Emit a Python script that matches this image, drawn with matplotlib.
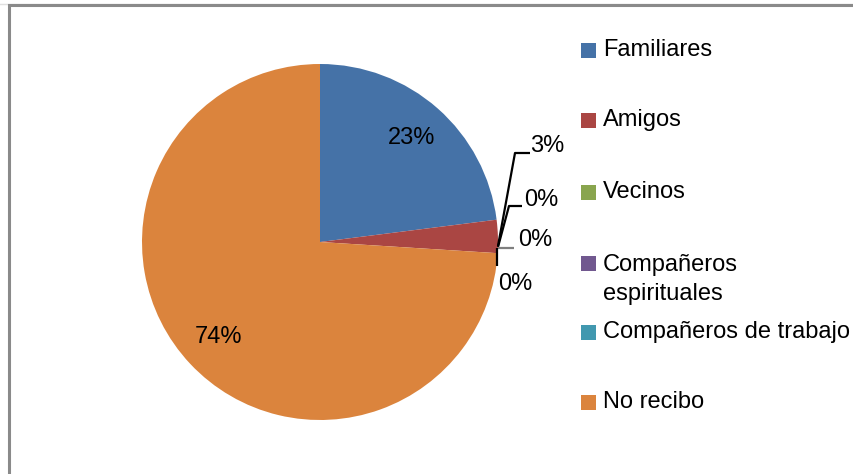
import matplotlib
matplotlib.use("Agg")
import matplotlib.pyplot as plt
from matplotlib.patches import Rectangle

plt.rcParams['font.family'] = ['Liberation Sans', 'DejaVu Sans']

categories = ["Familiares", "Amigos", "Vecinos", "Compañeros\nespirituales",
              "Compañeros de trabajo", "No recibo"]
values = [23, 3, 0, 0, 0, 74]
colors = ["#4572A7", "#AA4643", "#89A54E", "#71588F", "#4198AF", "#DB843D"]

W, H = 854, 474
fig = plt.figure(figsize=(W / 100, H / 100), dpi=100)
ax = fig.add_axes([0, 0, 1, 1])


def px(x, y):
    """Pixel position (from top-left) to data coordinates."""
    return x, H - y


cx, cy = px(320, 242)
R = 178
FS = 17

wedges, texts, autotexts = ax.pie(
    values, colors=colors, startangle=90, counterclock=False,
    center=(cx, cy), radius=R, autopct=lambda p: f"{p:.0f}%",
    pctdistance=0.78, textprops=dict(fontsize=FS, color="black"),
    wedgeprops=dict(linewidth=0), normalize=True)

# Small slices: labels moved outside with leader lines
outside = {
    1: dict(text=(547, 146), line=[(498, 246), (515, 153), (530, 153)], col="black"),
    2: dict(text=(541, 200), line=[(498, 247), (509, 206), (522, 206)], col="black"),
    3: dict(text=(535, 240), line=[(498, 248), (514, 248)], col="#7f7f7f"),
    4: dict(text=(515, 284), line=[(497, 248), (497, 266)], col="black"),
}
for i, spec in outside.items():
    autotexts[i].set_position(px(*spec["text"]))
    autotexts[i].set_ha("center")
    autotexts[i].set_va("center")
    xs, ys = zip(*[px(*p) for p in spec["line"]])
    ax.plot(xs, ys, color=spec["col"], lw=1.6, solid_capstyle="butt", zorder=3)

# Legend entries
rows = [50, 120, 192, 263, 332, 402]
for lab, col, yc in zip(categories, colors, rows):
    x0, y0 = px(581, yc + 7.5)
    ax.add_patch(Rectangle((x0, y0), 15, 15, facecolor=col, edgecolor="none"))
    tx, ty = px(603, yc)
    if "\n" in lab:
        ax.text(tx, ty + 9, lab, fontsize=FS, ha="left", va="top",
                linespacing=1.4)
    else:
        ax.text(tx, ty, lab, fontsize=FS, ha="left", va="center")

# Chart area border (left and top edges visible)
ax.add_patch(Rectangle(px(9, H + 20), W + 20, H + 15, fill=False,
                       edgecolor="#8a8a8a", lw=2.2, zorder=5, clip_on=False))
ax.plot([0, W], [H - 3.5, H - 3.5], color="#e0e0e0", lw=1)

ax.set_xlim(0, W)
ax.set_ylim(0, H)
ax.set_aspect("equal")
ax.axis("off")

fig.savefig("out.png", dpi=100)
